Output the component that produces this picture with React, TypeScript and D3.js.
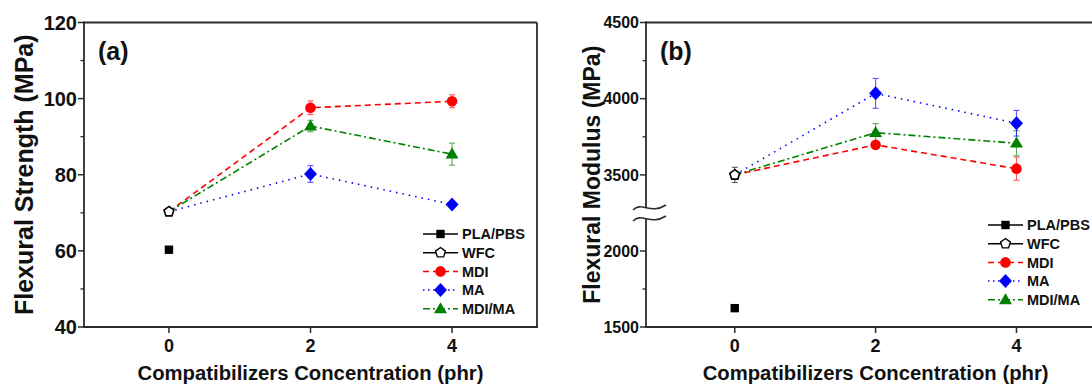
import React from 'react';
import * as d3 from 'd3';

// ---------- data ----------
const xValues = [0, 2, 4];
const legendNames = ['PLA/PBS', 'WFC', 'MDI', 'MA', 'MDI/MA'];

// (a) Flexural strength (MPa)
const strengthPLAPBS = 60.3;
const strengthWFC = 70.3;
const strengthWFCErr = 0.8;
const strengthMDI = [70.3, 97.6, 99.3];
const strengthMDIErr = [0.8, 1.8, 1.7];
const strengthMA = [70.3, 80.2, 72.2];
const strengthMAErr = [0.8, 2.2, 0.8];
const strengthMDIMA = [70.3, 92.8, 85.4];
const strengthMDIMAErr = [0.8, 1.5, 2.9];
const strengthTicks = [40, 60, 80, 100, 120];
const strengthMinor = [50, 70, 90, 110];

// (b) Flexural modulus (MPa)
const modulusPLAPBS = 1624;
const modulusWFC = 3500;
const modulusWFCErr = 50;
const modulusMDI = [3500, 3697, 3541];
const modulusMDIErr = [50, 20, 76];
const modulusMA = [3500, 4035, 3839];
const modulusMAErr = [50, 98, 84];
const modulusMDIMA = [3500, 3777, 3708];
const modulusMDIMAErr = [50, 60, 82];
const modulusTicks = [1500, 2000, 3500, 4000, 4500];
const modulusMinor = [1750, 3750, 4250];

const xTicks = [0, 2, 4];

// ---------- styles ----------
const FONT = 'Arial, "Liberation Sans", Helvetica, sans-serif';
const AX = '#2b2b2b';
const RED = '#ff0000';
const BLUE = '#0000ff';
const GREEN = '#008000';

type MarkerType = 'square' | 'pentagon' | 'circle' | 'diamond' | 'triangle';

function markerPath(t: MarkerType, cx: number, cy: number): string {
  if (t === 'square') {
    const s = 4.2;
    return `M${cx - s},${cy - s}H${cx + s}V${cy + s}H${cx - s}Z`;
  }
  if (t === 'diamond') {
    const w = 6.5, h = 7;
    return `M${cx},${cy - h}L${cx + w},${cy}L${cx},${cy + h}L${cx - w},${cy}Z`;
  }
  if (t === 'triangle') {
    const w = 6.5, h = 11;
    return `M${cx},${cy - h * 0.6}L${cx + w},${cy + h * 0.4}L${cx - w},${cy + h * 0.4}Z`;
  }
  if (t === 'pentagon') {
    const r = 5.2;
    const pts = d3.range(5).map(i => {
      const a = -Math.PI / 2 + (i * 2 * Math.PI) / 5;
      return [cx + r * Math.cos(a), cy + r * Math.sin(a)];
    });
    return 'M' + pts.map(p => p.join(',')).join('L') + 'Z';
  }
  const r = 5.3;
  return `M${cx - r},${cy}A${r},${r} 0 1,0 ${cx + r},${cy}A${r},${r} 0 1,0 ${cx - r},${cy}Z`;
}

interface Series {
  name: string;
  values: number[];
  errs: number[];
  color: string;
  dash: string;
  marker: MarkerType;
}

interface PanelProps {
  x: d3.ScaleLinear<number, number>;
  y: d3.ScaleLinear<number, number>;
  yTicks: number[];
  yMinor: number[];
  yFont: number;
  label: string;
  yTitle: string;
  yTitleX: number;
  yTitleFont: number;
  plaPbs: number;
  wfc: number;
  wfcErr: number;
  series: Series[];
  legendX: number;
  legendY: number;
  showBreak?: boolean;
}

const legendStyles = [
  { color: '#000', dash: '', marker: 'square' as MarkerType, fill: '#000' },
  { color: '#000', dash: '', marker: 'pentagon' as MarkerType, fill: '#fff' },
  { color: RED, dash: '6,4', marker: 'circle' as MarkerType, fill: RED },
  { color: BLUE, dash: '1.5,3.5', marker: 'diamond' as MarkerType, fill: BLUE },
  { color: GREEN, dash: '7,3,2,3', marker: 'triangle' as MarkerType, fill: GREEN },
];

function ErrorBar({ cx, y0, y1, color }: { cx: number; y0: number; y1: number; color: string }) {
  const c = 3;
  return (
    <g stroke={color} strokeWidth={1.1} opacity={0.65}>
      <line x1={cx} x2={cx} y1={y0} y2={y1} />
      <line x1={cx - c} x2={cx + c} y1={y0} y2={y0} />
      <line x1={cx - c} x2={cx + c} y1={y1} y2={y1} />
    </g>
  );
}

function Panel(p: PanelProps) {
  const { x, y } = p;
  const [x0, x1] = x.range();
  const yb = y(y.domain()[0]);
  const yt = y(y.domain()[y.domain().length - 1]);
  const line = d3
    .line<number>()
    .x((_, i) => x(xValues[i]))
    .y(d => y(d));
  const breakY = p.showBreak ? y(2250) : 0;
  return (
    <g fontFamily={FONT} fontWeight="bold">
      {/* series lines */}
      {p.series.map(s => (
        <path key={s.name + 'l'} d={line(s.values) || ''} fill="none" stroke={s.color}
          strokeWidth={1.6} strokeDasharray={s.dash} />
      ))}
      {/* error bars */}
      {p.series.map(s =>
        s.values.map((v, i) =>
          i === 0 ? null : (
            <ErrorBar key={s.name + 'e' + i} cx={x(xValues[i])} y0={y(v + s.errs[i])} y1={y(v - s.errs[i])} color={s.color} />
          )
        )
      )}
      <ErrorBar cx={x(0)} y0={y(p.wfc + p.wfcErr)} y1={y(p.wfc - p.wfcErr)} color="#000" />
      {/* markers */}
      {p.series.map(s =>
        s.values.map((v, i) =>
          i === 0 ? null : (
            <path key={s.name + 'm' + i} d={markerPath(s.marker, x(xValues[i]), y(v))} fill={s.color} />
          )
        )
      )}
      <path d={markerPath('pentagon', x(0), y(p.wfc))} fill="#fff" stroke="#000" strokeWidth={1.6} />
      <path d={markerPath('square', x(0), y(p.plaPbs))} fill="#000" />

      {/* frame */}
      <line x1={x0} x2={x1} y1={yt} y2={yt} stroke={AX} strokeWidth={1.8} />
      <line x1={x1} x2={x1} y1={yt} y2={yb} stroke={AX} strokeWidth={1.8} />
      <line x1={x0} x2={x1 + 0.9} y1={yb} y2={yb} stroke={AX} strokeWidth={1.8} />
      <line x1={x0} x2={x0} y1={yt - 0.9} y2={yb + 0.9} stroke={AX} strokeWidth={1.8} />

      {/* y ticks */}
      {p.yTicks.map(t => (
        <g key={'yt' + t}>
          <line x1={x0 - 6} x2={x0} y1={y(t)} y2={y(t)} stroke={AX} strokeWidth={1.5} />
          <text x={x0 - 7} y={y(t)} dy="0.36em" textAnchor="end" fontSize={p.yFont} fill="#111">{t}</text>
        </g>
      ))}
      {p.yMinor.map(t => (
        <line key={'ym' + t} x1={x0 - 3.5} x2={x0} y1={y(t)} y2={y(t)} stroke={AX} strokeWidth={1.3} />
      ))}
      {/* x ticks */}
      {xTicks.map(t => (
        <g key={'xt' + t}>
          <line x1={x(t)} x2={x(t)} y1={yb} y2={yb + 6} stroke={AX} strokeWidth={1.5} />
          <text x={x(t)} y={352} textAnchor="middle" fontSize={18} fill="#111">{t}</text>
        </g>
      ))}

      {p.showBreak && (
        <g>
          <rect x={x0 - 3} y={breakY - 5} width={6} height={10} fill="#fff" />
          <path d={`M${x0 - 13},${breakY - 3} C${x0 - 4},${breakY - 12} ${x0 + 4},${breakY + 2} ${x0 + 20},${breakY - 8}`}
            fill="none" stroke={AX} strokeWidth={1.6} />
          <path d={`M${x0 - 13},${breakY + 8} C${x0 - 4},${breakY - 1} ${x0 + 4},${breakY + 13} ${x0 + 20},${breakY + 3}`}
            fill="none" stroke={AX} strokeWidth={1.6} />
        </g>
      )}

      {/* panel label */}
      <text x={x0 + 14} y={60} fontSize={25} fill="#111">{p.label}</text>

      {/* axis titles */}
      <text transform={`translate(${p.yTitleX},${(yt + yb) / 2}) rotate(-90)`} textAnchor="middle"
        fontSize={p.yTitleFont} fill="#111">{p.yTitle}</text>
      <text x={x(2)} y={380} textAnchor="middle" fontSize={20.3} fill="#111">
        Compatibilizers Concentration (phr)
      </text>

      {/* legend */}
      {legendNames.map((n, i) => {
        const st = legendStyles[i];
        const ly = p.legendY + i * 18.7;
        const lx = p.legendX;
        return (
          <g key={'lg' + n}>
            <line x1={lx} x2={lx + 35} y1={ly} y2={ly} stroke={st.color} strokeWidth={1.5}
              strokeDasharray={st.dash} />
            <path d={markerPath(st.marker, lx + 17.5, ly)} fill={st.fill}
              stroke={st.marker === 'pentagon' ? '#000' : 'none'} strokeWidth={1.4} />
            <text x={lx + 39} y={ly} dy="0.36em" fontSize={14.5} fill="#111">{n}</text>
          </g>
        );
      })}
    </g>
  );
}

export default function App() {
  const xA = d3.scaleLinear().domain([-1.2, 5.2]).range([84, 537]);
  const yA = d3.scaleLinear().domain([40, 120]).range([327, 22.5]);
  const xB = d3.scaleLinear().domain([-1.26, 5.2]).range([646, 1101]);
  const yB = d3.scaleLinear().domain([1500, 2250, 3250, 4500]).range([327, 213, 213, 22.5]);

  const seriesA: Series[] = [
    { name: 'MDI', values: strengthMDI, errs: strengthMDIErr, color: RED, dash: '6,4', marker: 'circle' },
    { name: 'MDI/MA', values: strengthMDIMA, errs: strengthMDIMAErr, color: GREEN, dash: '7,3,2,3', marker: 'triangle' },
    { name: 'MA', values: strengthMA, errs: strengthMAErr, color: BLUE, dash: '1.5,5', marker: 'diamond' },
  ];
  const seriesB: Series[] = [
    { name: 'MDI', values: modulusMDI, errs: modulusMDIErr, color: RED, dash: '6,4', marker: 'circle' },
    { name: 'MDI/MA', values: modulusMDIMA, errs: modulusMDIMAErr, color: GREEN, dash: '7,3,2,3', marker: 'triangle' },
    { name: 'MA', values: modulusMA, errs: modulusMAErr, color: BLUE, dash: '1.5,5', marker: 'diamond' },
  ];

  return (
    <svg width={1092} height={388} style={{ position: 'absolute', left: 0, top: 0, background: '#fff' }}>
      <rect width={1092} height={388} fill="#fff" />
      <Panel x={xA} y={yA} yTicks={strengthTicks} yMinor={strengthMinor} yFont={20}
        label="(a)" yTitle="Flexural Strength (MPa)" yTitleX={33} yTitleFont={25}
        plaPbs={strengthPLAPBS} wfc={strengthWFC} wfcErr={strengthWFCErr} series={seriesA}
        legendX={423} legendY={234} />
      <Panel x={xB} y={yB} yTicks={modulusTicks} yMinor={modulusMinor} yFont={16}
        label="(b)" yTitle="Flexural Modulus (MPa)" yTitleX={600} yTitleFont={23}
        plaPbs={modulusPLAPBS} wfc={modulusWFC} wfcErr={modulusWFCErr} series={seriesB}
        legendX={988} legendY={225} showBreak />
    </svg>
  );
}
